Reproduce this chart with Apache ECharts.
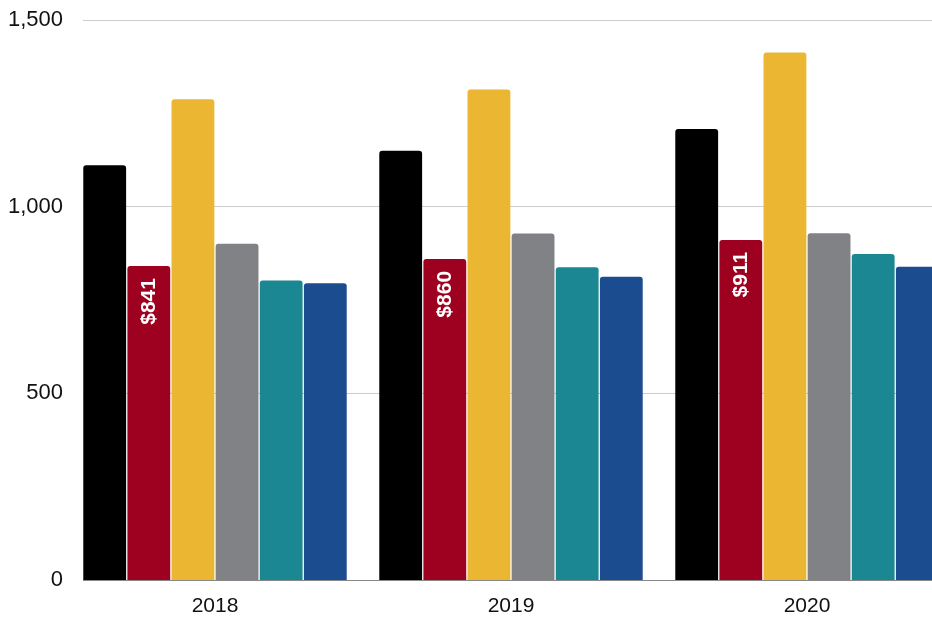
<!DOCTYPE html>
<html><head><meta charset="utf-8">
<script src="https://cdn.jsdelivr.net/npm/echarts@6/dist/echarts.min.js"></script>
<style>html,body{margin:0;padding:0;background:#fff;overflow:hidden;width:932px;height:618px}#c{width:960px;height:618px}</style>
</head><body><div id="c"></div>
<script>
const categories = ['2018', '2019', '2020'];
const seriesA = [1111, 1150, 1208];
const seriesB = [841, 860, 911];
const seriesC = [1288, 1314, 1413];
const seriesD = [901, 928, 929];
const seriesE = [802, 838, 873];
const seriesF = [795, 812, 839];
const yTicks = [0, 500, 1000, 1500];

const colors = ['#000000', '#9E001F', '#EBB733', '#818285', '#1B8792', '#1B4C8F'];
const allData = [seriesA, seriesB, seriesC, seriesD, seriesE, seriesF];

const chart = echarts.init(document.getElementById('c'));
const series = allData.map((d, i) => ({
  type: 'bar',
  name: 'S' + (i + 1),
  data: d,
  barGap: '3%',
  barCategoryGap: '11%',
  itemStyle: { color: colors[i], borderRadius: [3, 3, 0, 0] },
  label: i === 1 ? {
    show: true,
    position: 'insideTop',
    rotate: 90,
    align: 'right',
    verticalAlign: 'middle',
    distance: 12,
    color: '#fff',
    fontWeight: 'bold',
    fontSize: 21,
    fontFamily: 'Liberation Sans, Arial, sans-serif',
    formatter: p => '$' + p.value
  } : { show: false },
  silent: true
}));

chart.setOption({
  animation: false,
  grid: { left: 67, right: 5, top: 20, bottom: 38, containLabel: false },
  xAxis: {
    type: 'category',
    data: categories,
    axisTick: { show: false },
    axisLine: { lineStyle: { color: '#888', width: 1 } },
    axisLabel: { color: '#111', fontSize: 21, margin: 16, fontFamily: 'Liberation Sans, Arial, sans-serif' }
  },
  yAxis: {
    type: 'value',
    min: yTicks[0],
    max: yTicks[yTicks.length - 1],
    interval: 500,
    axisLine: { show: false },
    axisTick: { show: false },
    splitLine: { lineStyle: { color: '#cccccc' } },
    axisLabel: {
      color: '#111', fontSize: 22, margin: 4,
      fontFamily: 'Liberation Sans, Arial, sans-serif',
      formatter: v => v.toLocaleString('en-US')
    }
  },
  graphic: [{
    type: 'rect',
    shape: { x: 66, y: 0, width: 17, height: 583 },
    style: { fill: '#fff' },
    z: 100
  }],
  series: series
});
</script>
</body></html>
